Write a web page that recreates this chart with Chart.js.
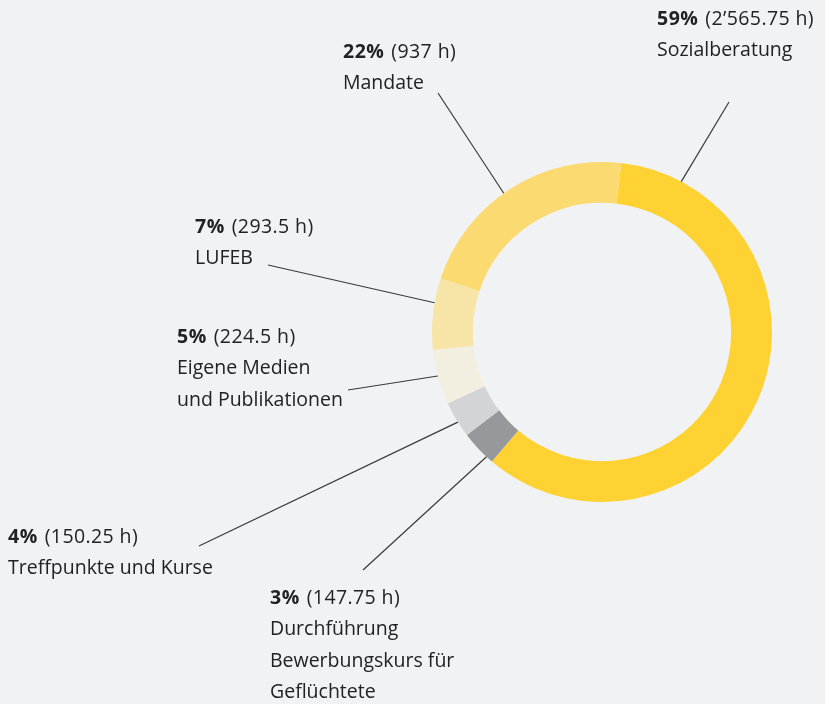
<!DOCTYPE html>
<html lang="de">
<head>
<meta charset="utf-8">
<title>Stunden nach Bereich</title>
<script src="https://cdn.jsdelivr.net/npm/chart.js@4.4.1/dist/chart.umd.min.js"></script>
<style>
    html, body { margin: 0; padding: 0; background: #f1f2f4; }
    #wrap { width: 825px; height: 704px; position: relative; }
</style>
</head>
<body>
<div id="wrap"><canvas id="chart"></canvas></div>
<script>
// --- DATA (clockwise, starting just right of 12 o'clock) ---
const categories = [
    ['Sozialberatung'],
    ['Durchführung', 'Bewerbungskurs für', 'Geflüchtete'],
    ['Treffpunkte und Kurse'],
    ['Eigene Medien', 'und Publikationen'],
    ['LUFEB'],
    ['Mandate']
];
const hours = [2565.75, 147.75, 150.25, 224.5, 293.5, 937];
const percentLabels = ['59%', '3%', '4%', '5%', '7%', '22%'];
const hourLabels = ['(2’565.75 h)', '(147.75 h)', '(150.25 h)', '(224.5 h)', '(293.5 h)', '(937 h)'];
const colors = ['#ffd233', '#97989b', '#d3d4d6', '#f3efe0', '#f7e4a7', '#fbda71'];

// --- LAYOUT for the callouts ---
const labelPos = [[657, 19], [270, 598], [8, 537], [177, 337], [195, 227], [343, 52]];
const leaderAngle = [27.8, 222.8, 238, 255, 279.9, 324.7];   // degrees clockwise from top
const leaderEnd = [[729, 102], [363, 570], [199, 546], [348, 390], [268, 265], [438, 93]];

const FONT = '"Open Sans", "Noto Sans", sans-serif';
const SIZE = 19.5;
const LINE_H = 31.5;

const calloutPlugin = {
    id: 'callouts',
    afterDatasetsDraw(chart) {
        const ctx = chart.ctx;
        const arc = chart.getDatasetMeta(0).data[0];
        const { x: cx, y: cy, outerRadius } = arc.getProps(['x', 'y', 'outerRadius'], true);

        ctx.save();
        // leader lines
        ctx.strokeStyle = '#3a3a3a';
        ctx.lineWidth = 1.2;
        leaderAngle.forEach((deg, i) => {
            const a = deg * Math.PI / 180;
            const sx = cx + outerRadius * Math.sin(a);
            const sy = cy - outerRadius * Math.cos(a);
            ctx.beginPath();
            ctx.moveTo(sx, sy);
            ctx.lineTo(leaderEnd[i][0], leaderEnd[i][1]);
            ctx.stroke();
        });

        // labels
        ctx.fillStyle = '#222';
        ctx.textBaseline = 'middle';
        ctx.textAlign = 'left';
        categories.forEach((lines, i) => {
            const [lx, ly] = labelPos[i];
            ctx.font = `bold ${SIZE}px ${FONT}`;
            ctx.letterSpacing = '0.5px';
            ctx.fillText(percentLabels[i], lx, ly);
            const w = ctx.measureText(percentLabels[i]).width + 7;
            ctx.font = `${SIZE}px ${FONT}`;
            ctx.letterSpacing = '0.4px';
            ctx.fillText(hourLabels[i], lx + w, ly);
            ctx.letterSpacing = '0px';
            lines.forEach((t, j) => ctx.fillText(t, lx, ly + LINE_H * (j + 1)));
        });
        ctx.restore();
    }
};

new Chart(document.getElementById('chart'), {
    type: 'doughnut',
    data: {
        labels: categories.map(c => c.join(' ')),
        datasets: [{
            data: hours,
            backgroundColor: colors,
            borderWidth: 0,
            hoverOffset: 0
        }]
    },
    options: {
        responsive: true,
        maintainAspectRatio: false,
        animation: false,
        rotation: 6.5,
        cutout: '76%',
        layout: { padding: { left: 432, right: 53, top: 162, bottom: 202 } },
        plugins: {
            legend: { display: false },
            tooltip: { enabled: false }
        }
    },
    plugins: [calloutPlugin]
});
</script>
</body>
</html>
